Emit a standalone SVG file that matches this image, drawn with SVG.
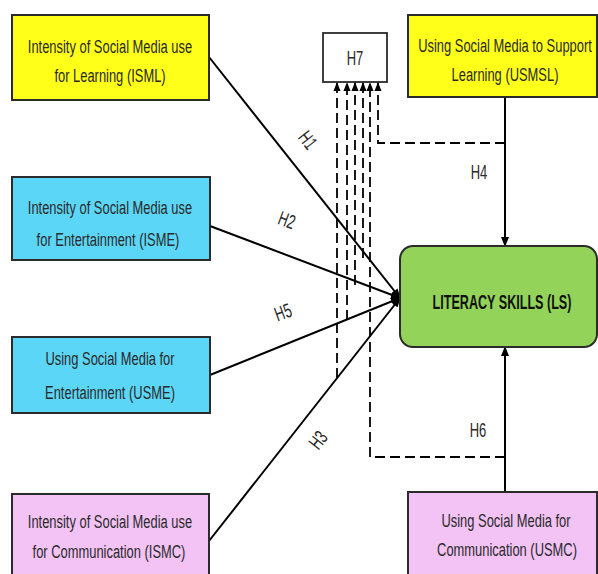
<svg xmlns="http://www.w3.org/2000/svg" width="598" height="574" viewBox="0 0 598 574">
<defs>
<marker id="ah" markerWidth="10" markerHeight="10" refX="9" refY="5" orient="auto" markerUnits="userSpaceOnUse">
<path d="M0,1 L10,5 L0,9 Z" fill="#000"/>
</marker>
<marker id="ahs" markerWidth="9" markerHeight="8" refX="9" refY="4" orient="auto" markerUnits="userSpaceOnUse">
<path d="M0,0.5 L9,4 L0,7.5 Z" fill="#000"/>
</marker>
<style>
.box{stroke:#2b2b2b;stroke-width:2}
.yel{fill:#ffff1a}
.cya{fill:#5cd6f7}
.pnk{fill:#f3c3f6}
.grn{fill:#93d35a}
.t{font-family:"Liberation Sans",Arial,sans-serif;font-size:19px;fill:#2a2a2a;text-anchor:middle}
.h{font-family:"Liberation Sans",Arial,sans-serif;font-size:20px;fill:#2a2a2a;text-anchor:middle}
.ls{font-family:"Liberation Sans",Arial,sans-serif;font-size:21px;font-weight:bold;fill:#111;text-anchor:middle}
.sol{stroke:#000;stroke-width:2;fill:none}
.dsh{stroke:#000;stroke-width:1.8;fill:none;stroke-dasharray:10 5}
</style>
</defs>
<rect width="598" height="574" fill="#fff"/>

<g id="connectors">
<line class="sol" x1="209" y1="57" x2="400" y2="298" marker-end="url(#ah)"/>
<line class="sol" x1="210" y1="226" x2="400" y2="298" marker-end="url(#ah)"/>
<line class="sol" x1="210" y1="375" x2="400" y2="298" marker-end="url(#ah)"/>
<line class="sol" x1="209" y1="541" x2="400" y2="298" marker-end="url(#ah)"/>
<line class="sol" x1="505" y1="97" x2="505" y2="246" marker-end="url(#ah)"/>
<line class="sol" x1="505" y1="492" x2="505" y2="347" marker-end="url(#ah)"/>
<line class="dsh" x1="337" y1="378" x2="337" y2="82" marker-end="url(#ahs)"/>
<line class="dsh" x1="347" y1="320" x2="347" y2="82" marker-end="url(#ahs)"/>
<line class="dsh" x1="355" y1="285" x2="355" y2="82" marker-end="url(#ahs)"/>
<line class="dsh" x1="363" y1="258" x2="363" y2="82" marker-end="url(#ahs)"/>
<polyline class="dsh" points="505,457 370,457 370,82" marker-end="url(#ahs)"/>
<polyline class="dsh" points="505,143 378,143 378,82" marker-end="url(#ahs)"/>
<text class="h" transform="translate(308,140) rotate(52) scale(0.65,1) translate(0,7)">H1</text>
<text class="h" transform="translate(287,220) rotate(20) scale(0.65,1) translate(0,7)">H2</text>
<text class="h" transform="translate(283,312) rotate(-20) scale(0.65,1) translate(0,7)">H5</text>
<text class="h" transform="translate(318,440) rotate(-52) scale(0.65,1) translate(0,7)">H3</text>
<text class="h" transform="translate(479,179) scale(0.65,1)">H4</text>
<text class="h" transform="translate(478,437) scale(0.65,1)">H6</text>
</g>

<g id="ISML">
<rect class="box yel" x="12" y="15" width="197" height="85"/>
<text class="t" transform="translate(110,53) scale(0.68,1)">Intensity of Social Media use</text>
<text class="t" transform="translate(110,82) scale(0.68,1)">for Learning (ISML)</text>
</g>

<g id="H7">
<rect x="323" y="33" width="64" height="49" fill="#fff" stroke="#2b2b2b" stroke-width="1.8"/>
<text class="h" transform="translate(355,65) scale(0.65,1)">H7</text>
</g>

<g id="USMSL">
<rect class="box yel" x="408" y="15" width="189" height="82"/>
<text class="t" transform="translate(505,52) scale(0.68,1)">Using Social Media to Support</text>
<text class="t" transform="translate(505,81) scale(0.68,1)">Learning (USMSL)</text>
</g>

<g id="ISME">
<rect class="box cya" x="12" y="177" width="198" height="83"/>
<text class="t" transform="translate(110,214) scale(0.68,1)">Intensity of Social Media use</text>
<text class="t" transform="translate(108,246) scale(0.68,1)">for Entertainment (ISME)</text>
</g>

<g id="LS">
<rect class="box grn" x="400" y="246" width="197" height="101" rx="13" ry="13"/>
<text class="ls" transform="translate(502,309) scale(0.6,1)">LITERACY  SKILLS (LS)</text>
</g>

<g id="USME">
<rect class="box cya" x="12" y="337" width="198" height="76"/>
<text class="t" transform="translate(110,365) scale(0.68,1)">Using Social Media for</text>
<text class="t" transform="translate(110,399) scale(0.68,1)">Entertainment (USME)</text>
</g>

<g id="ISMC">
<rect class="box pnk" x="12" y="494" width="197" height="90"/>
<text class="t" transform="translate(110,528) scale(0.68,1)">Intensity of Social Media use</text>
<text class="t" transform="translate(109,558) scale(0.68,1)">for Communication (ISMC)</text>
</g>

<g id="USMC">
<rect class="box pnk" x="408" y="492" width="189" height="92"/>
<text class="t" transform="translate(506,527) scale(0.68,1)">Using Social Media for</text>
<text class="t" transform="translate(507,556) scale(0.68,1)">Communication (USMC)</text>
</g>
</svg>
